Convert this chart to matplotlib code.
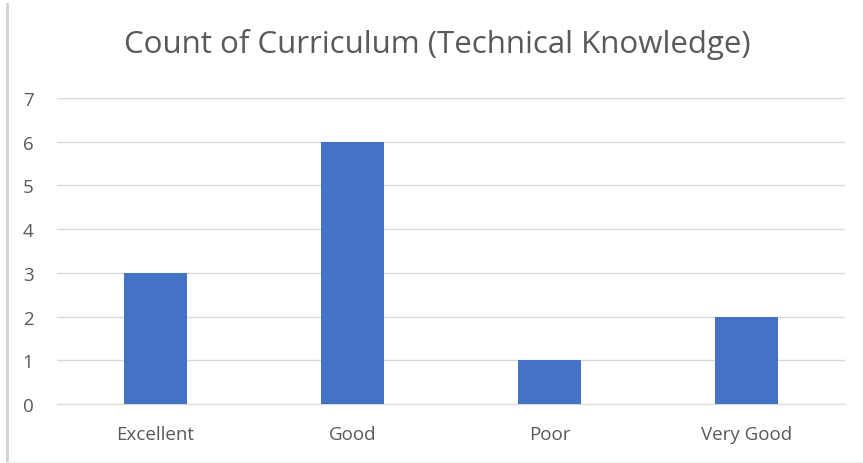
import matplotlib.pyplot as plt
from matplotlib.lines import Line2D
import numpy as np

categories = ['Excellent', 'Good', 'Poor', 'Very Good']
counts = [3, 6, 1, 2]
yticks = [0, 1, 2, 3, 4, 5, 6, 7]

plt.rcParams['font.family'] = ['Open Sans', 'DejaVu Sans']

fig = plt.figure(figsize=(8.63, 4.64), dpi=100)
ax = fig.add_axes([57 / 863, 1 - 405 / 464, 788 / 863, (405 - 99) / 464])

x = np.arange(len(categories))
ax.bar(x, counts, width=0.315, color='#4472C4', zorder=3)

ax.set_xlim(-0.5, len(categories) - 0.5)
ax.set_ylim(0, 7)
ax.set_yticks(yticks)
ax.set_xticks(x)
ax.set_xticklabels(categories)
ax.yaxis.grid(True, color='#d9d9d9', linewidth=1, zorder=0)
ax.tick_params(axis='both', length=0, colors='#595959', labelsize=13.5)
ax.tick_params(axis='x', pad=15)
ax.tick_params(axis='y', pad=17)
for s in ['top', 'right', 'left']:
    ax.spines[s].set_visible(False)
ax.spines['bottom'].set_color('#d9d9d9')

fig.text(437 / 863, 1 - 45 / 464, 'Count of Curriculum (Technical Knowledge)',
         ha='center', va='center', fontsize=22.5, color='#595959')

# frame lines at left and bottom of the picture
fig.add_artist(Line2D([7 / 863, 7 / 863], [0, 1 - 5 / 464], transform=fig.transFigure,
                      color='#d0d0d0', linewidth=2))
fig.add_artist(Line2D([7 / 863, 1], [1 / 464, 1 / 464], transform=fig.transFigure,
                      color='#eeeeee', linewidth=1))

fig.savefig('out.png', dpi=100)
